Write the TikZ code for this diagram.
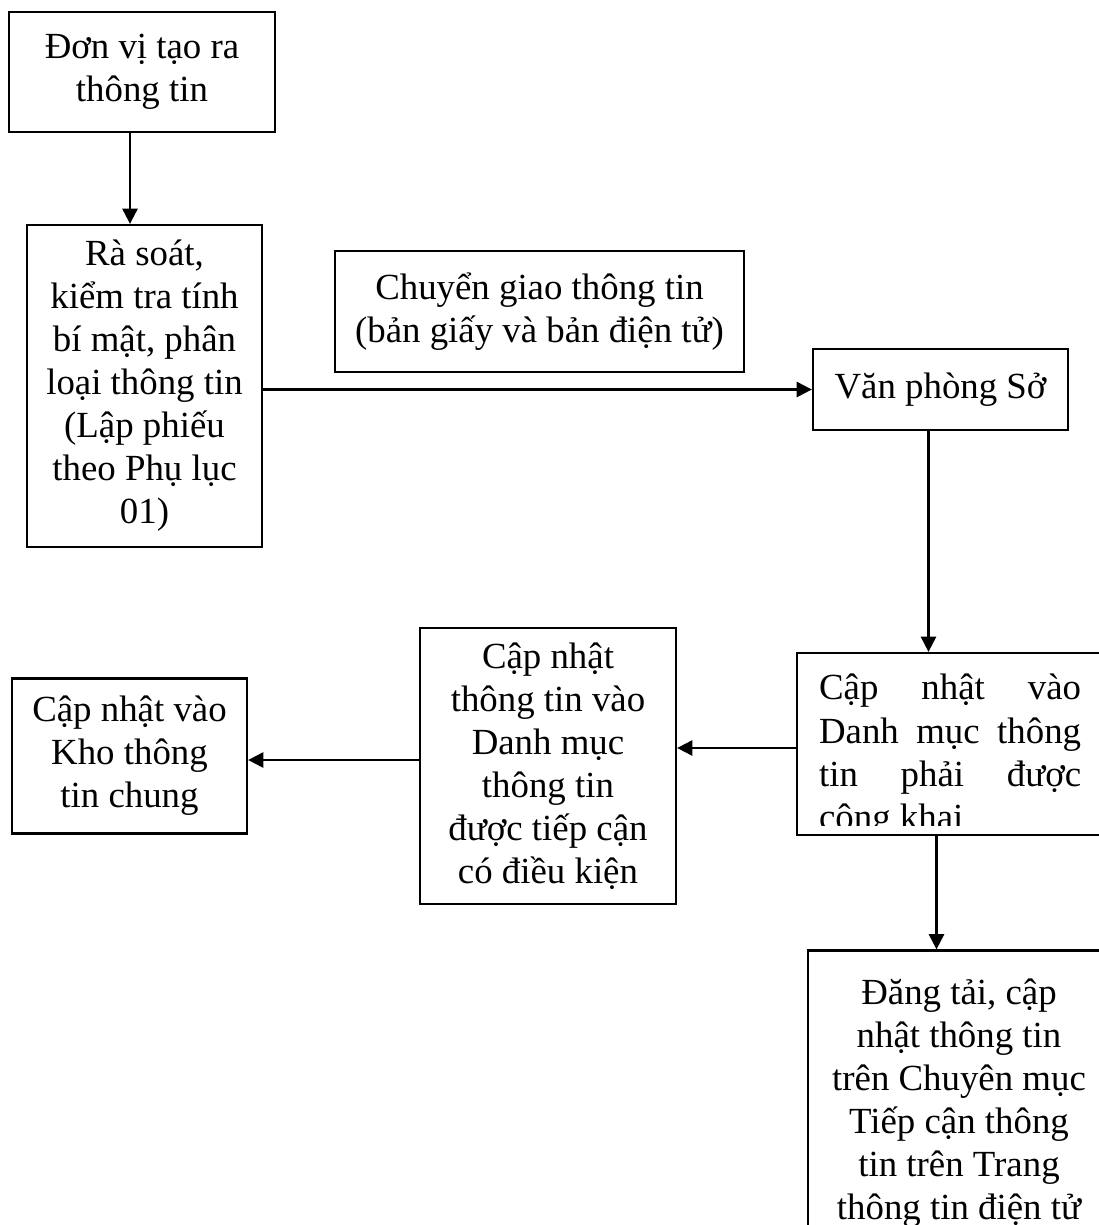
\documentclass[tikz,border=0pt]{standalone}
\usepackage{fontspec}
\setmainfont{Liberation Serif}
\usetikzlibrary{arrows.meta}

\newcommand{\flowfont}{\fontsize{26.2}{30.6}\selectfont}

\begin{document}
\begin{tikzpicture}[x=0.025cm, y=-0.025cm,
  box/.style={draw, line width=1.6pt, align=center, inner sep=0pt, font=\flowfont},
  arr/.style={-{Triangle[length=3.8mm, width=3.8mm]}, line width=1.5pt}]
% page frame
\path[use as bounding box, clip] (0,0) rectangle (1099,1225);

% Boxes
\node[box, minimum width=6.65cm, minimum height=3cm] (tao) at (142,72)
  {Đơn vị tạo ra\\thông tin};
\node[box, minimum width=5.875cm, minimum height=8.05cm] (rasoat) at (144.5,386)
  {Rà soát,\\kiểm tra tính\\bí mật, phân\\loại thông tin\\(Lập phiếu\\theo Phụ lục\\01)};
\node[box, minimum width=10.225cm, minimum height=3.025cm] (chuyen) at (539.5,311.5)
  {Chuyển giao thông tin\\(bản giấy và bản điện tử)};
\node[box, minimum width=6.375cm, minimum height=2.025cm] (vps) at (940.5,389.5)
  {Văn phòng Sở};
\node[box, minimum width=7.575cm, minimum height=4.55cm,
  path picture={
    \clip (path picture bounding box.north west) rectangle ([yshift=0.25cm]path picture bounding box.south east);
    \node[anchor=base west, inner sep=0pt, minimum width=0pt, minimum height=0pt, font=\flowfont]
      at ([xshift=0.525cm, yshift=-1.175cm]path picture bounding box.north west)
      {\parbox[t]{6.55cm}{Cập\hfill nhật\hfill vào\\
        Danh\hfill mục\hfill thông\\
        tin\hfill phải\hfill được\\
        công khai}};
  }] (congkhai) at (948.5,744) {};
\node[box, minimum width=6.4cm, minimum height=6.9cm] (tiepcan) at (548,766)
  {Cập nhật\\thông tin vào\\Danh mục\\thông tin\\được tiếp cận\\có điều kiện};
\node[box, minimum width=5.875cm, minimum height=3.875cm] (kho) at (129.5,756)
  {Cập nhật vào\\Kho thông\\tin chung};
\node[box, minimum width=7.55cm, minimum height=7.625cm] (dangtai) at (959,1103)
  {Đăng tải, cập\\nhật thông tin\\trên Chuyên mục\\Tiếp cận thông\\tin trên Trang\\thông tin điện tử};

% Arrows
\draw[arr] ([xshift=-3mm]tao.south) -- ([xshift=-3mm]tao.south |- rasoat.north);
\draw[arr] (vps.west -| rasoat.east) -- (vps.west);
\draw[arr] ([xshift=-3mm]vps.south) -- ([xshift=-3mm]vps.south |- congkhai.north);
\draw[arr] ([xshift=-3mm]congkhai.south) -- ([xshift=-3mm]congkhai.south |- dangtai.north);
\draw[arr] ([yshift=-1mm]congkhai.west) -- ([yshift=-1mm]congkhai.west -| tiepcan.east);
\draw[arr] ([yshift=-1mm]kho.east -| tiepcan.west) -- ([yshift=-1mm]kho.east);

\end{tikzpicture}
\end{document}
